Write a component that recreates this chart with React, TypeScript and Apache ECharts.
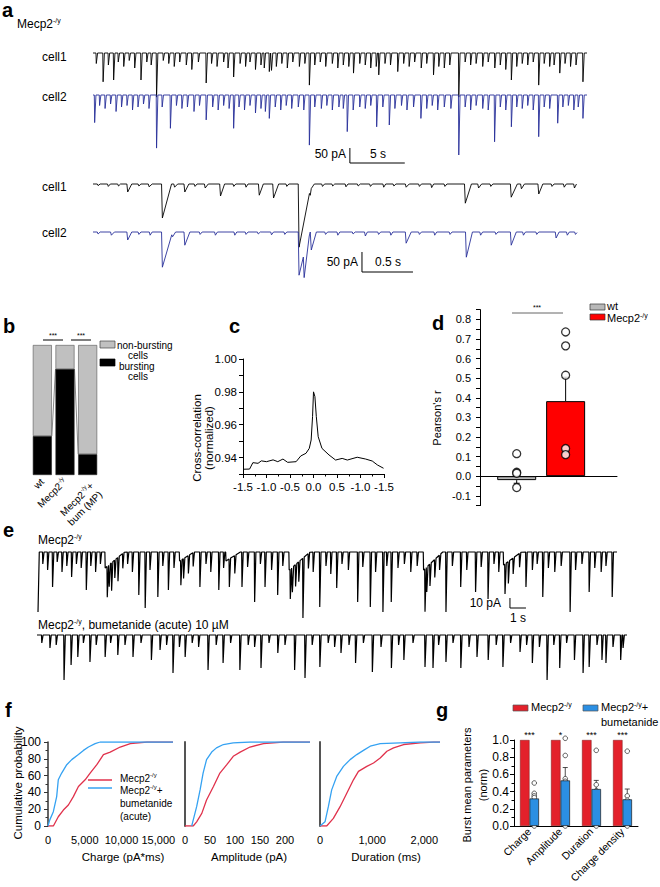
import React, { useEffect, useRef } from "react";
import * as echarts from "echarts";

const FONT = '"Liberation Sans", Arial, Helvetica, sans-serif';

// ---------------- panel a : events [time s, amplitude pA, (decay s)] ----------------
const aLongCell1 = [
  [0.3, 35], [0.92, 96], [1.4, 40], [1.88, 90], [2.3, 30], [2.8, 45], [3.3, 25], [3.8, 50], [4.37, 90], [4.9, 30],
  [5.3, 40], [5.79, 147], [6.4, 25], [6.9, 35], [7.4, 45], [7.9, 30], [8.5, 40], [9.0, 55], [9.6, 30], [10.31, 100],
  [10.8, 35], [11.3, 45], [11.9, 30], [12.3, 50], [12.81, 80], [13.4, 35], [13.9, 45], [14.3, 30], [14.8, 55], [15.3, 40],
  [15.6, 50], [16.06, 62], [16.26, 58], [16.7, 45], [17.2, 35], [17.7, 50], [18.2, 30], [18.8, 45], [19.3, 35], [19.71, 107],
  [20.2, 40], [20.7, 30], [21.2, 45], [21.8, 35], [22.3, 50], [22.8, 40], [23.3, 45], [23.73, 67], [24.3, 35], [24.8, 40],
  [25.3, 50], [25.8, 45], [26.03, 73], [26.6, 35], [27.1, 40], [27.76, 62], [28.3, 35], [28.8, 45], [29.3, 30], [29.9, 50],
  [30.4, 35], [31.02, 73], [31.5, 45], [32.0, 50], [32.5, 40], [33.32, 147], [33.9, 30], [34.4, 40], [34.9, 35], [35.5, 45],
  [36.0, 30], [36.6, 50], [37.1, 40], [37.6, 55], [38.11, 90], [38.6, 45], [39.1, 35], [39.6, 40], [40.1, 30], [40.6, 107],
  [41.1, 35], [41.6, 45], [42.0, 40], [42.52, 67], [43.0, 35], [43.5, 45], [44.0, 40], [44.63, 96],
];
const aLongCell2 = [
  [0.15, 92], [0.6, 35], [1.1, 45], [1.6, 30], [2.1, 55], [2.6, 40], [3.1, 35], [3.6, 50], [4.1, 40], [4.6, 30],
  [5.1, 45], [5.79, 177], [6.3, 40], [7.05, 111], [7.6, 35], [8.1, 45], [8.6, 40], [9.2, 55], [9.7, 35], [10.31, 83],
  [10.9, 40], [11.4, 50], [11.9, 35], [12.4, 45], [12.81, 111], [13.3, 40], [13.8, 50], [14.3, 35], [14.8, 60], [15.3, 45],
  [15.7, 55], [16.06, 78], [16.6, 40], [17.1, 50], [17.6, 35], [18.1, 45], [18.7, 40], [19.2, 50], [19.71, 167], [20.2, 40],
  [20.8, 45], [21.3, 35], [21.8, 50], [22.4, 40], [22.8, 45], [23.16, 122], [23.7, 50], [24.3, 40], [24.8, 45], [25.3, 35],
  [25.84, 106], [26.4, 40], [26.99, 100], [27.5, 45], [28.1, 35], [28.6, 50], [29.2, 40], [29.87, 78], [30.4, 45], [30.9, 35],
  [31.4, 50], [32.0, 40], [32.6, 45], [33.32, 200], [33.9, 40], [34.4, 50], [34.9, 35], [35.5, 45], [36.0, 50], [36.58, 156],
  [37.1, 40], [37.6, 50], [38.11, 106], [38.6, 40], [39.1, 45], [39.6, 35], [40.1, 50], [40.6, 139], [41.1, 40], [41.6, 45],
  [42.33, 94], [42.8, 40], [43.3, 35], [43.8, 50], [44.2, 40], [44.63, 78],
];
const aShortCell1 = [
  [0.05, 4, 0.02], [0.15, 6, 0.02], [0.25, 5, 0.02], [0.34, 20, 0.04], [0.45, 5, 0.02], [0.55, 7, 0.03], [0.68, 85, 0.09],
  [0.8, 8, 0.03], [0.9, 20, 0.04], [1.0, 6, 0.02], [1.1, 10, 0.03], [1.25, 30, 0.04], [1.38, 6, 0.02], [1.5, 8, 0.02],
  [1.63, 28, 0.04], [1.77, 35, 0.05], [1.9, 6, 0.02], [2.02, 158, 0.12], [2.13, 15, 0.04], [2.25, 6, 0.02], [2.35, 5, 0.02],
  [2.48, 7, 0.02], [2.6, 5, 0.02], [2.72, 6, 0.02], [2.85, 8, 0.02], [2.95, 5, 0.02], [3.07, 8, 0.03], [3.2, 6, 0.02],
  [3.32, 9, 0.02], [3.45, 6, 0.02], [3.65, 48, 0.06], [3.78, 10, 0.03], [3.9, 6, 0.02], [4.1, 33, 0.06], [4.2, 12, 0.03],
  [4.37, 25, 0.04], [4.5, 6, 0.02], [4.62, 8, 0.02], [4.72, 10, 0.02],
];
const aShortCell2 = [
  [0.05, 5, 0.02], [0.18, 8, 0.03], [0.34, 20, 0.04], [0.45, 6, 0.02], [0.56, 8, 0.02], [0.68, 88, 0.1], [0.78, 12, 0.03],
  [0.9, 33, 0.05], [1.05, 6, 0.02], [1.2, 8, 0.02], [1.39, 8, 0.02], [1.5, 6, 0.02], [1.62, 5, 0.02], [1.75, 7, 0.02],
  [1.88, 6, 0.02], [2.02, 108, 0.1], [2.07, 60, 0.06], [2.14, 45, 0.05], [2.28, 6, 0.02], [2.4, 8, 0.02], [2.55, 5, 0.02],
  [2.67, 10, 0.02], [2.8, 6, 0.02], [2.92, 8, 0.02], [3.07, 28, 0.05], [3.2, 6, 0.02], [3.35, 8, 0.02], [3.5, 6, 0.02],
  [3.66, 63, 0.06], [3.8, 8, 0.02], [3.95, 6, 0.02], [4.1, 33, 0.05], [4.22, 8, 0.02], [4.35, 6, 0.02], [4.54, 15, 0.03],
  [4.65, 8, 0.02], [4.73, 6, 0.02],
];
const aLongScale = { t: 23.4, v: -176.7, pA: 50, s: 5 };
const aShortScale = { t: 2.637, v: -50, pA: 50, s: 0.5 };

// ---------------- panel e ----------------
const eCtrlBursts = [[4.2, 16, 1.2], [8.85, 9, 0.9], [11.75, 9, 0.9], [15.7, 18, 1.3], [24.1, 18, 1.2], [29.1, 13, 1.1]];
const eCtrlEvents = [
  [0.0, 60], [0.3, 12], [0.6, 18], [0.91, 35], [1.2, 10], [1.5, 20], [1.8, 14], [2.1, 25], [2.4, 12], [2.7, 16], [3.02, 38],
  [3.3, 14], [3.6, 20], [3.9, 12], [4.33, 31], [4.45, 22], [4.6, 28], [4.8, 18], [5.0, 24], [5.3, 15], [5.6, 12], [5.9, 20],
  [6.3, 43], [6.7, 56], [7.0, 18], [7.49, 45], [7.8, 14], [8.15, 38], [8.5, 16], [8.93, 25], [9.1, 20], [9.4, 18], [9.7, 14],
  [10.12, 35], [10.5, 12], [10.8, 20], [11.3, 38], [11.6, 16], [11.96, 28], [12.3, 18], [12.75, 35], [13.1, 15], [13.54, 50],
  [13.9, 12], [14.19, 35], [14.6, 18], [14.98, 43], [15.3, 14], [15.77, 30], [15.9, 25], [16.1, 22], [16.3, 20], [16.56, 60],
  [16.9, 15], [17.2, 20], [17.61, 55], [18.0, 14], [18.3, 22], [18.67, 36], [19.0, 12], [19.4, 18], [19.98, 50], [20.3, 15],
  [20.77, 55], [21.1, 20], [21.56, 60], [21.8, 14], [22.08, 50], [22.5, 16], [22.9, 12], [23.3, 20], [23.7, 14], [24.19, 43],
  [24.3, 25], [24.5, 22], [24.8, 18], [25.1, 15], [25.5, 60], [25.9, 14], [26.42, 35], [26.8, 18], [27.35, 40], [27.7, 15],
  [28.13, 47], [28.5, 12], [28.8, 20], [29.19, 30], [29.4, 22], [29.7, 16], [30.1, 14], [30.5, 35], [30.9, 18], [31.2, 12],
  [31.55, 45], [31.9, 16], [32.3, 20], [32.7, 14], [33.26, 60], [33.6, 18], [34.0, 12], [34.45, 40], [34.8, 16], [35.2, 20],
  [35.5, 14], [35.89, 45],
];
const eBumEvents = [
  [0.3, 8], [0.81, 13], [1.2, 10], [1.69, 45], [2.13, 30], [2.55, 22], [2.9, 8], [3.31, 27], [3.7, 10], [4.26, 22], [4.6, 8],
  [5.05, 20], [5.5, 10], [6.0, 22], [6.5, 8], [7.15, 25], [7.69, 15], [8.1, 10], [8.5, 38], [8.9, 12], [9.26, 22], [9.7, 8],
  [10.1, 12], [10.69, 35], [11.2, 10], [11.63, 28], [12.1, 8], [12.68, 35], [13.2, 10], [13.6, 12], [14.0, 33], [14.5, 8],
  [15.05, 18], [15.5, 10], [16.1, 35], [16.75, 43], [17.2, 10], [17.68, 32], [18.2, 8], [18.6, 12], [19.0, 18], [19.5, 10],
  [19.91, 28], [20.4, 8], [20.96, 37], [21.5, 12], [22.15, 33], [22.6, 10], [22.93, 25], [23.5, 8], [24.25, 32], [24.75, 33],
  [25.1, 10], [25.56, 27], [26.0, 8], [26.49, 33], [27.0, 12], [27.5, 22], [28.2, 25], [28.7, 10], [29.12, 32], [29.6, 8],
  [30.19, 17], [30.6, 10], [30.96, 28], [31.4, 12], [31.88, 45], [32.3, 10], [32.67, 33], [33.1, 8], [33.59, 25], [34.13, 38],
  [34.51, 32], [35.0, 10], [35.31, 25], [35.56, 28], [36.0, 12], [36.48, 25], [36.63, 13],
];
const eScale = { t: 29.5, v: -46, pA: 10, s: 1 };

// ---------------- panel b ----------------
const bCats = ["wt", "Mecp2-/y", "Mecp2-/y+\nbum (MP)"];
const bBursting = [0.3, 0.815, 0.16];
const bNonBursting = [0.7, 0.185, 0.84];

// ---------------- panel c ----------------
const cLag = [-1.5, -1.36, -1.29, -1.18, -1.11, -1.0, -0.86, -0.76, -0.65, -0.55, -0.37, -0.27, -0.16, -0.09, -0.05, -0.02, 0.0, 0.03, 0.06, 0.1, 0.18, 0.33, 0.47, 0.61, 0.72, 0.93, 1.11, 1.25, 1.36, 1.49];
const cCorr = [0.9329, 0.933, 0.9369, 0.9365, 0.938, 0.9375, 0.9386, 0.9375, 0.9391, 0.9371, 0.9375, 0.941, 0.9426, 0.9456, 0.9507, 0.9649, 0.98, 0.9771, 0.9649, 0.9527, 0.9456, 0.9416, 0.9385, 0.9395, 0.9385, 0.9402, 0.9391, 0.9379, 0.9355, 0.9335];
const cTickLabels = ["-1.5", "-1.0", "-0.5", "0.0", "0.5", "-1.0", "-1.5"];

// ---------------- panel d ----------------
const dGroups = ["wt", "Mecp2-/y"];
const dPos = [0.75, 1.75];
const dMean = [-0.02, 0.383];
const dErrEnd = [-0.036, 0.505];
const dWtPts = [0.115, 0.02, 0.015, -0.058];
const dMecpPts = [0.736, 0.665, 0.515, 0.141, 0.11];

// ---------------- panel f ----------------
const fChargeRedX = [0, 730, 1400, 2090, 2770, 3450, 4140, 5050, 5730, 6640, 7540, 8460, 9820, 11190, 13460, 17000];
const fChargeRedY = [0, 0, 11, 19, 25, 35, 47, 55, 63, 73, 85, 88, 94, 98, 100, 100];
const fChargeBlueX = [0, 230, 725, 1180, 1400, 1860, 2550, 3230, 4140, 4820, 5500, 6410, 7090, 17000];
const fChargeBlueY = [0, 7, 17, 35, 55, 63, 73, 79, 85, 90, 94, 98, 100, 100];
const fAmpRedX = [0, 16.4, 23.3, 33.6, 43.1, 56.9, 69.8, 83.6, 96.5, 110.3, 130, 156.9, 196.5, 250];
const fAmpRedY = [0, 0, 5, 15, 31, 47, 63, 73, 83, 88, 94, 98, 100, 100];
const fAmpBlueX = [13.4, 16.4, 23.3, 30.2, 36.2, 43.1, 53.4, 62.9, 76.7, 96.5, 130, 250];
const fAmpBlueY = [0, 7, 23, 43, 63, 79, 88, 93, 97, 99, 100, 100];
const fDurRedX = [0, 128, 256, 385, 513, 641, 737, 897, 1026, 1154, 1282, 1410, 1603, 1923, 2179, 2300];
const fDurRedY = [0, 0, 9, 23, 39, 55, 65, 71, 75, 81, 89, 93, 97, 99, 100, 100];
const fDurBlueX = [0, 96, 160, 224, 320, 449, 577, 705, 833, 962, 1154, 1538, 1923, 2300];
const fDurBlueY = [0, 5, 23, 43, 59, 71, 79, 85, 90, 95, 98, 99, 100, 100];

// ---------------- panel g ----------------
const gCats = ["Charge", "Amplitude", "Duration", "Charge density"];
const gRed = [1, 1, 1, 1];
const gBlue = [0.32, 0.53, 0.43, 0.31];
const gErrEnd = [0.37, 0.68, 0.53, 0.43];
const gSig = ["***", "*", "***", "***"];
const gPtsCharge = [0.5, 0.38, 0.35, 0.33, 0.0];
const gPtsAmplitude = [1.02, 0.82, 0.55, 0.52, 0.34, 0.0];
const gPtsDuration = [0.88, 0.48, 0.41, 0.33, 0.0];
const gPtsDensity = [0.87, 0.35, 0.3, 0.05, 0.0];

// ------------------------------------------------------------------------------------------
const BLUE_TRACE = "#28309a";
const RED_D = "#ff0000";
const RED_G = "#e3212b";
const BLUE_G = "#2b8fe3";
const RED_F = "#e0324c";
const BLUE_F = "#35a2f2";

function buildTrace(events: number[][], decay: number, rise: number, tEnd: number): number[][] {
  const keys: number[] = [0, tEnd];
  for (const e of events) {
    const d = e.length > 2 ? e[2] : decay;
    keys.push(e[0] - rise, e[0], e[0] + d);
  }
  const ts = Array.from(new Set(keys.filter((t) => t >= 0 && t <= tEnd))).sort((a, b) => a - b);
  return ts.map((t) => {
    let v = 0;
    for (const e of events) {
      const d = e.length > 2 ? e[2] : decay;
      if (t > e[0] - rise && t <= e[0]) v -= (e[1] * (t - e[0] + rise)) / rise;
      else if (t > e[0] && t < e[0] + d) v -= e[1] * (1 - (t - e[0]) / d);
    }
    return [t, v];
  });
}

const rich = (s: number) => ({
  n: { fontSize: s, fontFamily: FONT, lineHeight: s + 2 },
  s: { fontSize: Math.round(s * 0.6), fontFamily: FONT, lineHeight: Math.round(s * 0.6) + 1, verticalAlign: "top" },
});
const supText = (t: string) => "{n|" + t.replace(/-\/y/g, "}{s|-/y}{n|") + "}";

const T = (x: number, y: number, text: string, o: any = {}) => {
  const size = o.size || 12;
  return {
    type: "text",
    x,
    y,
    rotation: o.rot || 0,
    silent: true,
    style: {
      text: o.sup ? supText(text) : text,
      fill: "#000",
      fontSize: size,
      fontFamily: FONT,
      fontWeight: o.bold ? "bold" : "normal",
      align: o.align || "left",
      verticalAlign: "middle",
      rich: rich(size),
    },
  };
};
const L = (x1: number, y1: number, x2: number, y2: number, stroke = "#000", lw = 1) => ({
  type: "line",
  silent: true,
  shape: { x1, y1, x2, y2 },
  style: { stroke, lineWidth: lw },
});
const R = (x: number, y: number, w: number, h: number, fill: string, stroke = "#444") => ({
  type: "rect",
  silent: true,
  shape: { x, y, width: w, height: h },
  style: { fill, stroke, lineWidth: 0.7 },
});

const hid = (gi: number, min: number, max: number) => ({ type: "value", gridIndex: gi, min, max, show: false });

function traceSeries(events: number[][], decay: number, rise: number, tEnd: number, idx: number, color: string, w = 0.8) {
  return {
    type: "line",
    xAxisIndex: idx,
    yAxisIndex: idx,
    data: buildTrace(events, decay, rise, tEnd),
    symbol: "none",
    showSymbol: false,
    lineStyle: { color, width: w },
    silent: true,
    clip: true,
  };
}
function scaleSeries(sc: { t: number; v: number; pA: number; s: number }, idx: number) {
  return {
    type: "line",
    xAxisIndex: idx,
    yAxisIndex: idx,
    data: [
      [sc.t, sc.v],
      [sc.t, sc.v - sc.pA],
      [sc.t + sc.s, sc.v - sc.pA],
    ],
    symbol: "none",
    lineStyle: { color: "#000", width: 1 },
    silent: true,
  };
}
const zip = (xs: number[], ys: number[]) => xs.map((x, i) => [x, ys[i]]);

function buildOption() {
  const grids = [
    { left: 93, top: 38, width: 494, height: 120 },
    { left: 93, top: 80, width: 494, height: 120 },
    { left: 93, top: 170, width: 484, height: 110 },
    { left: 93, top: 218, width: 484, height: 110 },
    { left: 31, top: 345, width: 68, height: 130 },
    { left: 243, top: 359, width: 141, height: 115 },
    { left: 480, top: 309.6, width: 137, height: 196 },
    { left: 38, top: 540, width: 579, height: 80 },
    { left: 37, top: 625, width: 590, height: 65 },
    { left: 48, top: 742, width: 125, height: 84 },
    { left: 185, top: 742, width: 125, height: 84 },
    { left: 320, top: 742, width: 120, height: 84 },
    { left: 514, top: 740, width: 124, height: 86 },
  ].map((g) => ({ ...g, containLabel: false, outerBoundsMode: "none" }));

  const tickFont = (size: number, margin: number) => ({ fontSize: size, fontFamily: FONT, color: "#000", margin });
  const blackLine = { show: true, onZero: false, lineStyle: { color: "#000", width: 1 } };

  const fX = (gi: number, min: number, max: number, vals: number[]) => ({
    type: "value",
    gridIndex: gi,
    min,
    max,
    axisLine: { show: false },
    axisTick: { show: false },
    splitLine: { show: false },
    axisLabel: {
      ...tickFont(11, 8),
      customValues: vals,
      showMinLabel: true,
      showMaxLabel: true,
      hideOverlap: false,
      formatter: (v: number) => v.toLocaleString("en-US"),
    },
  });

  const xAxis: any[] = [
    hid(0, 0, 45),
    hid(1, 0, 45),
    hid(2, 0, 4.745),
    hid(3, 0, 4.745),
    {
      type: "category",
      gridIndex: 4,
      data: bCats.map((c) => (c.includes("\n") ? { value: c, textStyle: { verticalAlign: "top" } } : c)),
      axisLine: { show: false },
      axisTick: { show: false },
      axisLabel: {
        ...tickFont(10, 5),
        rotate: 45,
        interval: 0,
        lineHeight: 11,
        formatter: (v: string) => v.split("\n").map(supText).join("\n"),
        rich: rich(10),
      },
    },
    {
      type: "value",
      gridIndex: 5,
      min: -1.5,
      max: 1.5,
      interval: 0.5,
      axisLine: blackLine,
      axisTick: { show: true, length: 4, lineStyle: { color: "#000" } },
      minorTick: { show: true, splitNumber: 2, length: 2.5, lineStyle: { color: "#000" } },
      splitLine: { show: false },
      axisLabel: { ...tickFont(11.5, 7), formatter: (v: number) => cTickLabels[Math.round((v + 1.5) / 0.5)] ?? "" },
    },
    {
      type: "value",
      gridIndex: 6,
      min: 0,
      max: 2.8,
      axisLine: { show: true, onZero: true, lineStyle: { color: "#000", width: 1 } },
      axisTick: { show: false },
      axisLabel: { show: false },
      splitLine: { show: false },
    },
    hid(7, 0, 36.19),
    hid(8, 0, 36.875),
    fX(9, 0, 17000, [0, 5000, 10000, 15000]),
    fX(10, 0, 250, [0, 50, 100, 150, 200]),
    fX(11, 0, 2300, [0, 1000, 2000]),
    {
      type: "category",
      gridIndex: 12,
      data: gCats,
      axisLine: { show: true, lineStyle: { color: "#000", width: 1 } },
      axisTick: { show: false },
      axisLabel: { ...tickFont(10.5, 4), rotate: 45, interval: 0 },
    },
  ];

  const yAxis: any[] = [
    hid(0, -350, 50),
    hid(1, -350, 50),
    hid(2, -240, 35),
    hid(3, -240, 35),
    { type: "value", gridIndex: 4, min: 0, max: 1, show: false },
    {
      type: "value",
      gridIndex: 5,
      min: 0.93,
      max: 1.0,
      interval: 0.01,
      axisLine: blackLine,
      axisTick: { show: true, length: 4, lineStyle: { color: "#000" } },
      splitLine: { show: false },
      axisLabel: { ...tickFont(11.5, 6), formatter: (v: number) => (Math.round(v * 100) % 2 === 0 ? v.toFixed(2) : "") },
    },
    {
      type: "value",
      gridIndex: 6,
      min: -0.15,
      max: 0.85,
      interval: 0.05,
      axisLine: blackLine,
      axisTick: { show: true, length: 4, lineStyle: { color: "#000" } },
      splitLine: { show: false },
      axisLabel: { ...tickFont(11, 9), formatter: (v: number) => (Math.round(v * 100) % 10 === 0 ? v.toFixed(1) : "") },
    },
    hid(7, -68, 12),
    hid(8, -55, 10),
    {
      type: "value",
      gridIndex: 9,
      min: 0,
      max: 100,
      interval: 20,
      axisLine: { show: true, lineStyle: { color: "#333", width: 1.5 } },
      axisTick: { show: true, length: 4, lineStyle: { color: "#333" } },
      minorTick: { show: true, splitNumber: 2, length: 2.5, lineStyle: { color: "#333" } },
      splitLine: { show: false },
      axisLabel: tickFont(12, 7),
    },
    {
      type: "value",
      gridIndex: 10,
      min: 0,
      max: 100,
      axisLine: { show: true, lineStyle: { color: "#555", width: 2 } },
      axisTick: { show: false },
      axisLabel: { show: false },
      splitLine: { show: false },
    },
    {
      type: "value",
      gridIndex: 11,
      min: 0,
      max: 100,
      axisLine: { show: true, lineStyle: { color: "#555", width: 2 } },
      axisTick: { show: false },
      axisLabel: { show: false },
      splitLine: { show: false },
    },
    {
      type: "value",
      gridIndex: 12,
      min: 0,
      max: 1,
      interval: 0.2,
      axisLine: blackLine,
      axisTick: { show: true, length: 4, lineStyle: { color: "#000" } },
      minorTick: { show: true, splitNumber: 2, length: 2.5, lineStyle: { color: "#000" } },
      splitLine: { show: false },
      axisLabel: { ...tickFont(12, 5), formatter: (v: number) => v.toFixed(1) },
    },
  ];

  const bBarWidth = 19;
  const gBarW = 9.5;
  const gOff = gBarW / 2;

  const series: any[] = [
    // panel a
    traceSeries(aLongCell1, 0.12, 0.03, 45, 0, "#000", 0.9),
    traceSeries(aLongCell2, 0.12, 0.03, 45, 1, BLUE_TRACE, 0.9),
    scaleSeries(aLongScale, 1),
    traceSeries(aShortCell1, 0.03, 0.008, 4.745, 2, "#000", 0.9),
    traceSeries(aShortCell2, 0.03, 0.008, 4.745, 3, BLUE_TRACE, 0.9),
    scaleSeries(aShortScale, 3),
    // panel b
    {
      type: "bar",
      xAxisIndex: 4,
      yAxisIndex: 4,
      stack: "b",
      barWidth: bBarWidth,
      data: bBursting,
      itemStyle: { color: "#000", borderColor: "#222", borderWidth: 0.6 },
      silent: true,
    },
    {
      type: "bar",
      xAxisIndex: 4,
      yAxisIndex: 4,
      stack: "b",
      barWidth: bBarWidth,
      data: bNonBursting,
      itemStyle: { color: "#c0c0c0", borderColor: "#555", borderWidth: 0.6 },
      silent: true,
    },
    {
      type: "custom",
      xAxisIndex: 4,
      yAxisIndex: 4,
      silent: true,
      data: bBursting.slice(0, -1).map((v, i) => [i, v, bBursting[i + 1]]),
      renderItem: (params: any, api: any) => {
        const i = api.value(0);
        const p1 = api.coord([i, api.value(1)]);
        const p2 = api.coord([i + 1, api.value(2)]);
        const half = bBarWidth / 2;
        return {
          type: "line",
          shape: { x1: p1[0] + half, y1: p1[1], x2: p2[0] - half, y2: p2[1] },
          style: { stroke: "#555", lineWidth: 0.7 },
        };
      },
    },
    // panel c
    {
      type: "line",
      xAxisIndex: 5,
      yAxisIndex: 5,
      data: zip(cLag, cCorr),
      symbol: "none",
      lineStyle: { color: "#000", width: 1 },
      silent: true,
    },
    // panel d
    {
      type: "bar",
      xAxisIndex: 6,
      yAxisIndex: 6,
      barWidth: 39,
      silent: true,
      data: dMean.map((v, i) => ({
        name: dGroups[i],
        value: [dPos[i], v],
        itemStyle: { color: i === 0 ? "#b8b8b8" : RED_D, borderColor: "#000", borderWidth: 1 },
      })),
    },
    {
      type: "custom",
      xAxisIndex: 6,
      yAxisIndex: 6,
      silent: true,
      data: dMean.map((v, i) => [dPos[i], v, dErrEnd[i]]),
      renderItem: (params: any, api: any) => {
        const p1 = api.coord([api.value(0), api.value(1)]);
        const p2 = api.coord([api.value(0), api.value(2)]);
        return {
          type: "group",
          children: [
            { type: "line", shape: { x1: p1[0], y1: p1[1], x2: p2[0], y2: p2[1] }, style: { stroke: "#000", lineWidth: 1 } },
            { type: "line", shape: { x1: p2[0] - 3, y1: p2[1], x2: p2[0] + 3, y2: p2[1] }, style: { stroke: "#000", lineWidth: 1 } },
          ],
        };
      },
    },
    {
      type: "scatter",
      xAxisIndex: 6,
      yAxisIndex: 6,
      silent: true,
      symbol: "circle",
      symbolSize: 8,
      itemStyle: { color: "#fff", borderColor: "#000", borderWidth: 1.3 },
      data: [...dWtPts.map((v) => [dPos[0], v]), ...dMecpPts.map((v) => [dPos[1], v])],
    },
    // panel e
    traceSeries([...eCtrlBursts, ...eCtrlEvents], 0.08, 0.02, 36.19, 7, "#000", 1.2),
    scaleSeries(eScale, 7),
    traceSeries(eBumEvents, 0.08, 0.02, 36.875, 8, "#000", 1.2),
    // panel f
    ...[
      [9, fChargeRedX, fChargeRedY, RED_F],
      [9, fChargeBlueX, fChargeBlueY, BLUE_F],
      [10, fAmpRedX, fAmpRedY, RED_F],
      [10, fAmpBlueX, fAmpBlueY, BLUE_F],
      [11, fDurRedX, fDurRedY, RED_F],
      [11, fDurBlueX, fDurBlueY, BLUE_F],
    ].map(([gi, xs, ys, col]: any) => ({
      type: "line",
      xAxisIndex: gi,
      yAxisIndex: gi,
      data: zip(xs, ys),
      symbol: "none",
      lineStyle: { color: col, width: 1.3 },
      silent: true,
    })),
    // panel g
    {
      type: "bar",
      xAxisIndex: 12,
      yAxisIndex: 12,
      barWidth: gBarW,
      barGap: "0%",
      data: gRed,
      silent: true,
      itemStyle: { color: RED_G, borderColor: "#7a1a1a", borderWidth: 0.5 },
      label: {
        show: true,
        position: "top",
        distance: 1,
        offset: [gOff, 0],
        fontSize: 9,
        fontFamily: FONT,
        color: "#000",
        formatter: (p: any) => gSig[p.dataIndex],
      },
    },
    {
      type: "bar",
      xAxisIndex: 12,
      yAxisIndex: 12,
      barWidth: gBarW,
      barGap: "0%",
      data: gBlue,
      silent: true,
      itemStyle: { color: BLUE_G, borderColor: "#1a1a1a", borderWidth: 0.7 },
    },
    {
      type: "custom",
      xAxisIndex: 12,
      yAxisIndex: 12,
      silent: true,
      data: gBlue.map((v, i) => [i, v, gErrEnd[i]]),
      renderItem: (params: any, api: any) => {
        const p1 = api.coord([api.value(0), api.value(1)]);
        const p2 = api.coord([api.value(0), api.value(2)]);
        const x = p1[0] + gOff;
        return {
          type: "group",
          children: [
            { type: "line", shape: { x1: x, y1: p1[1], x2: x, y2: p2[1] }, style: { stroke: "#222", lineWidth: 0.8 } },
            { type: "line", shape: { x1: x - 2.5, y1: p2[1], x2: x + 2.5, y2: p2[1] }, style: { stroke: "#222", lineWidth: 0.8 } },
          ],
        };
      },
    },
    {
      type: "custom",
      xAxisIndex: 12,
      yAxisIndex: 12,
      silent: true,
      data: [gPtsCharge, gPtsAmplitude, gPtsDuration, gPtsDensity].flatMap((arr, i) => arr.map((v) => [i, v])),
      renderItem: (params: any, api: any) => {
        const p = api.coord([api.value(0), api.value(1)]);
        return {
          type: "circle",
          shape: { cx: p[0] + gOff, cy: p[1], r: 2.3 },
          style: { fill: "#fff", stroke: "#333", lineWidth: 0.8 },
        };
      },
    },
  ];

  const elements: any[] = [
    // panel letters
    T(2, 10, "a", { size: 20, bold: true }),
    T(3, 326, "b", { size: 20, bold: true }),
    T(229, 326, "c", { size: 20, bold: true }),
    T(432, 323, "d", { size: 20, bold: true }),
    T(3, 530, "e", { size: 20, bold: true }),
    T(5, 710, "f", { size: 20, bold: true }),
    T(436, 710, "g", { size: 20, bold: true }),
    // panel a texts
    T(17, 24, "Mecp2-/y", { sup: true, size: 12 }),
    T(42, 57, "cell1"),
    T(42, 97, "cell2"),
    T(42, 187, "cell1"),
    T(42, 233, "cell2"),
    T(346, 154, "50 pA", { align: "right" }),
    T(378, 154, "5 s", { align: "center" }),
    T(358, 262, "50 pA", { align: "right" }),
    T(388, 262, "0.5 s", { align: "center" }),
    // panel b
    L(43, 340, 63, 340, "#000", 1),
    L(71, 340, 91, 340, "#000", 1),
    T(53, 335, "***", { size: 7, align: "center" }),
    T(81, 335, "***", { size: 7, align: "center" }),
    R(100, 341, 15, 7, "#c0c0c0"),
    T(117, 345, "non-bursting", { size: 10 }),
    T(128, 355, "cells", { size: 10 }),
    R(100, 359, 15, 7, "#000", "#000"),
    T(119, 366, "bursting", { size: 10 }),
    T(128, 376, "cells", { size: 10 }),
    // panel c
    T(197, 438, "Cross-correlation", { size: 11.5, align: "center", rot: Math.PI / 2 }),
    T(209, 438, "(normalized)", { size: 11.5, align: "center", rot: Math.PI / 2 }),
    // panel d
    L(512, 313, 563, 313, "#666", 1),
    T(537, 307, "***", { size: 7, align: "center" }),
    R(590, 304, 15, 6, "#b8b8b8", "#333"),
    T(607, 306, "wt", { size: 11 }),
    R(590, 314, 15, 6, RED_D, "#333"),
    T(607, 318, "Mecp2-/y", { sup: true, size: 11 }),
    T(437, 418, "Pearson's r", { size: 11, align: "center", rot: Math.PI / 2 }),
    // panel e
    T(38, 540, "Mecp2-/y", { sup: true, size: 12 }),
    T(38, 625, "Mecp2-/y, bumetanide (acute) 10 \u00b5M", { sup: true, size: 12 }),
    T(501, 603, "10 pA", { align: "right" }),
    T(518, 618, "1 s", { align: "center" }),
    // panel f
    T(18, 783, "Cumulative probability", { size: 11.5, align: "center", rot: Math.PI / 2 }),
    L(88, 780, 112, 780, RED_F, 1.5),
    L(88, 788, 112, 788, BLUE_F, 1.5),
    T(120, 778, "Mecp2-/y", { sup: true, size: 10 }),
    T(120, 790, "Mecp2-/y+", { sup: true, size: 10 }),
    T(120, 803, "bumetanide", { size: 10 }),
    T(120, 816, "(acute)", { size: 10 }),
    T(123, 857, "Charge (pA*ms)", { size: 11.5, align: "center" }),
    T(249, 857, "Amplitude (pA)", { size: 11.5, align: "center" }),
    T(386, 857, "Duration (ms)", { size: 11.5, align: "center" }),
    // panel g
    R(513, 705, 15, 6, RED_G, "#555"),
    T(531, 707, "Mecp2-/y", { sup: true, size: 11 }),
    R(583, 705, 15, 6, BLUE_G, "#555"),
    T(601, 707, "Mecp2-/y+", { sup: true, size: 11 }),
    T(601, 722, "bumetanide", { size: 11 }),
    T(467, 785, "Burst mean parameters", { size: 11, align: "center", rot: Math.PI / 2 }),
    T(483, 785, "(norm)", { size: 11, align: "center", rot: Math.PI / 2 }),
  ];

  return {
    animation: false,
    backgroundColor: "#fff",
    textStyle: { fontFamily: FONT },
    grid: grids,
    xAxis,
    yAxis,
    series,
    graphic: { elements },
  };
}

export default function App() {
  const ref = useRef<HTMLDivElement>(null);
  useEffect(() => {
    if (!ref.current) return;
    const chart = echarts.init(ref.current, null, { renderer: "svg" });
    chart.setOption(buildOption() as any);
    return () => chart.dispose();
  }, []);
  return (
    <div
      ref={ref}
      style={{ position: "absolute", left: 0, top: 0, width: 660, height: 887, background: "#fff" }}
    />
  );
}
